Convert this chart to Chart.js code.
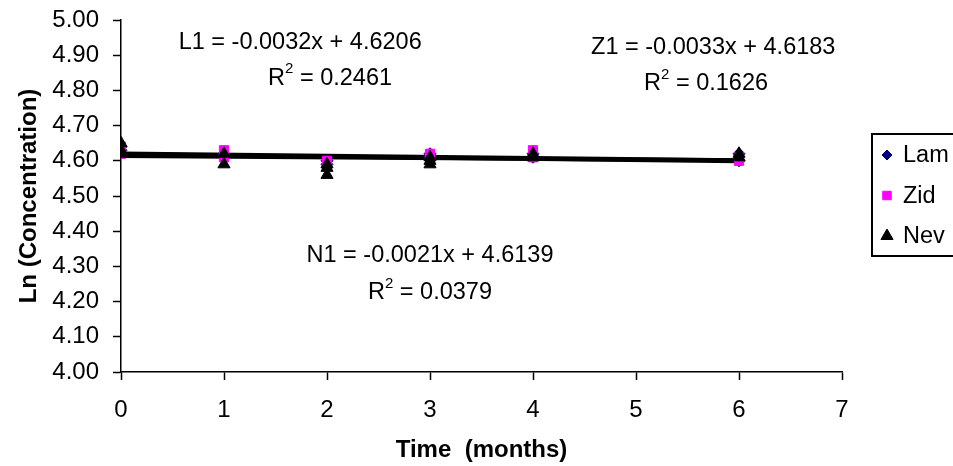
<!DOCTYPE html>
<html><head><meta charset="utf-8">
<script src="https://cdn.jsdelivr.net/npm/chart.js@4/dist/chart.umd.min.js"></script>
<style>html,body{margin:0;padding:0;background:#fff;overflow:hidden}</style>
</head><body>
<canvas id="c" width="953" height="466"></canvas>
<script>
// ---- data ----
const lamTime = [0, 0, 1, 1, 2, 2, 3, 3, 4, 4, 6, 6];
const lamLn   = [4.64, 4.63, 4.62, 4.61, 4.60, 4.59, 4.62, 4.61, 4.62, 4.61, 4.62, 4.60];
const zidTime = [0, 0, 0, 1, 1, 2, 2, 3, 3, 4, 4, 6, 6];
const zidLn   = [4.64, 4.63, 4.62, 4.63, 4.61, 4.60, 4.59, 4.62, 4.61, 4.63, 4.61, 4.60, 4.61];
const nevTime = [0, 0, 0, 1, 1, 2, 2, 2, 3, 3, 3, 4, 4, 6, 6];
const nevLn   = [4.65, 4.63, 4.62, 4.62, 4.59, 4.59, 4.58, 4.56, 4.61, 4.60, 4.59, 4.62, 4.61, 4.62, 4.61];

const seriesNames = ['Lam', 'Zid', 'Nev'];
const trendNames  = ['L1', 'Z1', 'N1'];
const trendSlope  = [-0.0032, -0.0033, -0.0021];
const trendInter  = [4.6206, 4.6183, 4.6139];
const trendR2     = ['0.2461', '0.1626', '0.0379'];
const trendRange  = [0, 6];

const xTicks = [0, 1, 2, 3, 4, 5, 6, 7];
const yTicks = [4.00, 4.10, 4.20, 4.30, 4.40, 4.50, 4.60, 4.70, 4.80, 4.90, 5.00];

// label anchors (data coordinates) for the equations
const eqPos = [
  {eq: [1.74, 4.937], r2: [2.03, 4.835]},
  {eq: [5.75, 4.923], r2: [5.68, 4.82]},
  {eq: [3.0, 4.33], r2: [3.0, 4.226]}
];

const FONT = "'Liberation Sans', Arial, sans-serif";
const zip = (xs, ys) => xs.map((x, i) => ({x, y: ys[i]}));

const trendSets = trendNames.map((n, i) => ({
  type: 'line',
  label: n,
  data: trendRange.map(x => ({x, y: trendSlope[i] * x + trendInter[i]})),
  borderColor: '#000', borderWidth: 4, pointRadius: 0, showLine: true, fill: false,
  order: 10
}));

const eqPlugin = {
  id: 'eqText',
  afterDatasetsDraw(chart) {
    const {ctx, scales: {x, y}} = chart;
    ctx.save();
    ctx.fillStyle = '#000';
    ctx.textBaseline = 'middle';
    const fs = 23.5;
    trendNames.forEach((n, i) => {
      const p = eqPos[i];
      ctx.font = fs + 'px ' + FONT;
      ctx.textAlign = 'center';
      const sgn = trendSlope[i] < 0 ? '-' : '';
      const txt = `${n} = ${sgn}${Math.abs(trendSlope[i]).toFixed(4)}x + ${trendInter[i].toFixed(4)}`;
      ctx.fillText(txt, x.getPixelForValue(p.eq[0]), y.getPixelForValue(p.eq[1]));
      // R^2 with superscript
      const a = 'R', b = '2', c = ' = ' + trendR2[i];
      ctx.font = fs + 'px ' + FONT;
      const wa = ctx.measureText(a).width, wc = ctx.measureText(c).width;
      ctx.font = Math.round(fs * 0.65) + 'px ' + FONT;
      const wb = ctx.measureText(b).width;
      const total = wa + wb + wc;
      let sx = x.getPixelForValue(p.r2[0]) - total / 2;
      const sy = y.getPixelForValue(p.r2[1]);
      ctx.textAlign = 'left';
      ctx.font = fs + 'px ' + FONT;
      ctx.fillText(a, sx, sy);
      ctx.font = Math.round(fs * 0.65) + 'px ' + FONT;
      ctx.fillText(b, sx + wa, sy - 9);
      ctx.font = fs + 'px ' + FONT;
      ctx.fillText(c, sx + wa + wb, sy);
    });
    ctx.restore();
  }
};

const legendPlugin = {
  id: 'boxLegend',
  afterDraw(chart) {
    const {ctx} = chart;
    const left = 872, top = 134, w = 120, h = 122;
    ctx.save();
    ctx.strokeStyle = '#000'; ctx.lineWidth = 2;
    ctx.strokeRect(left, top, w, h);
    const marks = [
      {style: 'rectRot', color: '#000080', r: 5},
      {style: 'rect', color: '#FF00FF', r: 6},
      {style: 'triangle', color: '#000', r: 7}
    ];
    ctx.font = '23.5px ' + FONT;
    ctx.textBaseline = 'middle';
    ctx.textAlign = 'left';
    seriesNames.forEach((n, i) => {
      const cy = top + 21 + i * 40.5;
      const m = marks[i];
      ctx.fillStyle = m.color; ctx.strokeStyle = m.color; ctx.lineWidth = 1;
      Chart.helpers.drawPoint(ctx, {pointStyle: m.style, radius: m.r, borderWidth: 1}, 887, cy);
      ctx.fillStyle = '#000';
      ctx.fillText(n, 903, cy + 1);
    });
    ctx.restore();
  }
};

new Chart(document.getElementById('c'), {
  type: 'scatter',
  data: {
    datasets: [
      {label: seriesNames[0], data: zip(lamTime, lamLn), pointStyle: 'rectRot', pointRadius: 6,
       backgroundColor: '#000080', borderColor: '#000080', order: 3},
      {label: seriesNames[1], data: zip(zidTime, zidLn), pointStyle: 'rect', pointRadius: 6.5,
       backgroundColor: '#FF00FF', borderColor: '#FF00FF', order: 2},
      {label: seriesNames[2], data: zip(nevTime, nevLn), pointStyle: 'triangle', pointRadius: 7,
       backgroundColor: '#000', borderColor: '#000', order: 1},
      ...trendSets
    ]
  },
  options: {
    responsive: false, animation: false, devicePixelRatio: 1,
    layout: {padding: {left: 0, top: 20, right: 111, bottom: 0}},
    plugins: {legend: {display: false}, tooltip: {enabled: false}},
    scales: {
      x: {
        type: 'linear', min: 0, max: 7,
        afterBuildTicks: s => { s.ticks = xTicks.map(v => ({value: v})); },
        afterFit: s => { s.height = 94; s.paddingLeft = 0; s.paddingRight = 0; },
        ticks: {color: '#000', font: {family: FONT, size: 24}, padding: 16, callback: v => String(v)},
        grid: {display: true, drawOnChartArea: false, drawTicks: true, tickLength: 8, color: '#000', tickWidth: 1.5},
        border: {display: true, color: '#000', width: 1.5},
        title: {display: true, text: 'Time  (months)', color: '#000',
                font: {family: FONT, size: 24, weight: 'bold'}, padding: {top: 0, bottom: 1}}
      },
      y: {
        min: 4, max: 5,
        afterBuildTicks: s => { s.ticks = yTicks.map(v => ({value: v})); },
        afterFit: s => { s.width = 121; s.paddingTop = 0; s.paddingBottom = 0; },
        ticks: {color: '#000', font: {family: FONT, size: 24}, padding: 14, callback: v => Number(v).toFixed(2)},
        grid: {display: true, drawOnChartArea: false, drawTicks: true, tickLength: 8, color: '#000', tickWidth: 1.5},
        border: {display: true, color: '#000', width: 1.5},
        title: {display: true, text: 'Ln (Concentration)', color: '#000',
                font: {family: FONT, size: 24, weight: 'bold'}, padding: {top: 15, bottom: 0}}
      }
    }
  },
  plugins: [eqPlugin, legendPlugin]
});
</script>
</body></html>
